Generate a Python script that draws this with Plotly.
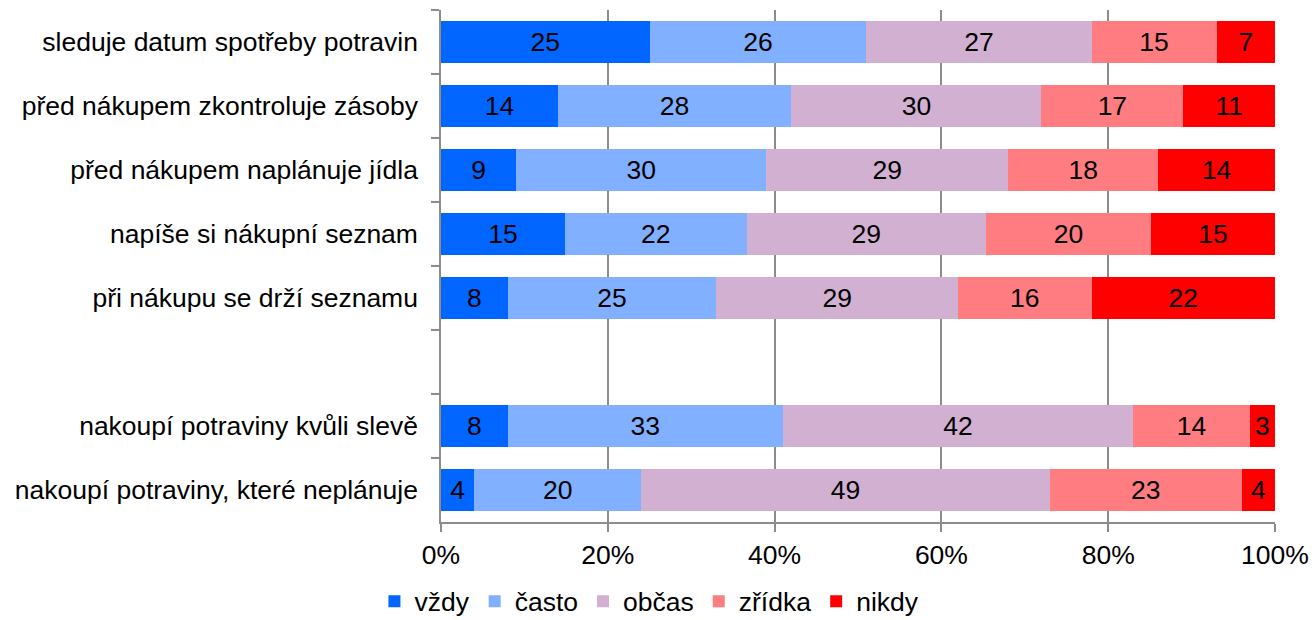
import plotly.graph_objects as go

categories = [
    "sleduje datum spotřeby potravin",
    "před nákupem zkontroluje zásoby",
    "před nákupem naplánuje jídla",
    "napíše si nákupní seznam",
    "při nákupu se drží seznamu",
    " ",
    "nakoupí potraviny kvůli slevě",
    "nakoupí potraviny, které neplánuje",
]
series_names = ["vždy", "často", "občas", "zřídka", "nikdy"]
vzdy = [25, 14, 9, 15, 8, None, 8, 4]
casto = [26, 28, 30, 22, 25, None, 33, 20]
obcas = [27, 30, 29, 29, 29, None, 42, 49]
zridka = [15, 17, 18, 20, 16, None, 14, 23]
nikdy = [7, 11, 14, 15, 22, None, 3, 4]
x_ticks = [0, 20, 40, 60, 80, 100]
x_tick_labels = ["0%", "20%", "40%", "60%", "80%", "100%"]

colors = ["#0066FF", "#80B0FF", "#D2B0D2", "#FF7C80", "#FF0000"]
FONT = "Liberation Sans, Arial, sans-serif"
FS = 26.5

fig = go.Figure()
for name, vals, col in zip(series_names, [vzdy, casto, obcas, zridka, nikdy], colors):
    fig.add_trace(go.Bar(
        y=categories, x=vals, name=name, orientation="h",
        marker=dict(color=col, line=dict(width=0)),
        text=[("" if v is None else str(v)) for v in vals],
        textposition="inside", insidetextanchor="middle", textangle=0,
        textfont=dict(color="black", size=FS, family=FONT),
        constraintext="none",
    ))

fig.update_layout(
    barmode="stack", barnorm="percent", bargap=0.34,
    width=1312, height=620,
    margin=dict(l=441, r=37, t=10, b=98, autoexpand=False),
    plot_bgcolor="white", paper_bgcolor="white",
    font=dict(family=FONT, size=FS, color="black"),
    uniformtext=dict(minsize=FS, mode="show"),
    legend=dict(orientation="h", xref="container", yref="container",
                x=0.495, xanchor="center", y=0.03, yanchor="middle",
                font=dict(size=FS), traceorder="normal", itemwidth=30,
                tracegroupgap=0),
    showlegend=True,
)
fig.update_xaxes(
    range=[0, 100], tickvals=x_ticks, ticktext=x_tick_labels,
    showgrid=True, gridcolor="#8C8C8C", gridwidth=1.5,
    showline=True, linecolor="#8C8C8C", linewidth=1.5,
    ticks="outside", ticklen=8, tickcolor="#8C8C8C", tickwidth=1.5,
    zeroline=False, fixedrange=True, automargin=False,
)
fig.update_yaxes(
    categoryorder="array", categoryarray=categories, autorange="reversed",
    showline=True, linecolor="#8C8C8C", linewidth=1.5,
    ticks="outside", ticklen=8, tickcolor="#8C8C8C", tickwidth=1.5,
    tickson="boundaries", ticklabelstandoff=16, showgrid=False,
    automargin=False,
)

fig.write_html("out.html", config={"displayModeBar": False},
               post_script="document.body.style.margin='0';")
